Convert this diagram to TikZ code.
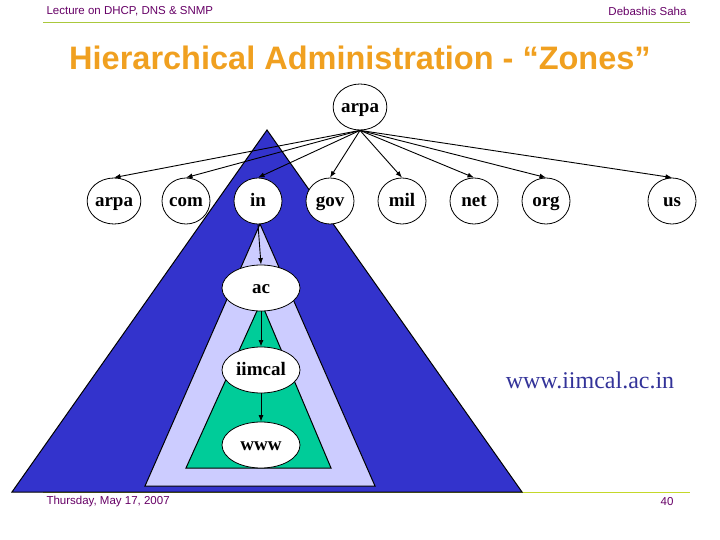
\documentclass[tikz,border=0pt]{standalone}
\usepackage{fontspec}
\setmainfont{Liberation Serif}
\newfontfamily\headfont{Liberation Sans}
\usepackage{tikz}
\usetikzlibrary{arrows.meta,positioning,shapes.geometric}
\definecolor{zoneblue}{RGB}{51,51,204}
\definecolor{zonelav}{RGB}{204,204,255}
\definecolor{zonegreen}{RGB}{0,204,153}
\definecolor{titleorange}{RGB}{240,160,32}
\definecolor{headpurple}{RGB}{102,0,102}
\definecolor{ruleolive}{RGB}{170,200,60}
\definecolor{urlblue}{RGB}{51,51,153}

\begin{document}
\begin{tikzpicture}[x=1pt,y=-1pt,
    dom/.style={draw,ellipse,fill=white,line width=0.8pt,minimum width=48pt,minimum height=46pt,inner sep=0pt,text height=12pt,text depth=1pt,font=\fontsize{19}{19}\selectfont\bfseries},
    sub/.style={dom,minimum width=78pt},
    zone/.style={draw,line width=1pt},
    head/.style={text=headpurple,font=\headfont\fontsize{11.5}{11.5}\selectfont},
    >={Latex[length=6.5pt,width=5pt]}
  ]
    \useasboundingbox (0,0) rectangle (720,540);

    % header and footer
    \node[head,anchor=west] (lect) at (43,11) {Lecture on DHCP, DNS \& SNMP};
    \node[head,anchor=east] (auth) at (690,11) {Debashis Saha};
    \draw[ruleolive,line width=1pt] (43,23) -- (690,23);
    \draw[ruleolive!70!yellow,line width=1pt] (43,492) -- (690,492);
    \node[head,anchor=west] (date) at (43,502) {Thursday, May 17, 2007};
    \node[head,anchor=east] (page) at (677,502) {40};
    \node[text=titleorange,font=\headfont\bfseries\fontsize{32.5}{32.5}\selectfont] (title) at (360,58) {Hierarchical Administration - “Zones”};

    % zones
    \draw[zone,fill=zoneblue] (267,130) -- (522,492) -- (12,492) -- cycle;
    \draw[zone,fill=zonelav] (260,224) -- (375,486) -- (145,486) -- cycle;
    \draw[zone,fill=zonegreen] (261,302) -- (331,468) -- (186,468) -- cycle;

    % domain tree
    \node[dom] (root) at (360,107) {arpa};
    \node[dom] (arpa) at (114,201) {arpa};
    \node[dom] (com) at (186,201) {com};
    \node[dom] (india) at (258,201) {in};
    \node[dom] (gov) at (330,201) {gov};
    \node[dom] (mil) at (402,201) {mil};
    \node[dom] (net) at (474,201) {net};
    \node[dom] (org) at (546,201) {org};
    \node[dom] (us) at (672,201) {us};
    \node[sub] (ac) at (261,288) {ac};
    \node[sub] (iimcal) at (261,370) {iimcal};
    \node[sub] (www) at (261,445) {www};

    \foreach \d in {arpa,com,india,gov,mil,net,org,us}
      \draw[->,line width=0.9pt] (root.south) -- (\d.north);
    \draw[->,line width=0.9pt] (india.south) -- (ac.north);
    \draw[->,line width=0.9pt] (ac.south) -- (iimcal.north);
    \draw[->,line width=0.9pt] (iimcal.south) -- (www.north);

    \node[text=urlblue,font=\fontsize{24}{24}\selectfont] (url) at (590,380) {www.iimcal.ac.in};
  \end{tikzpicture}
\end{document}
